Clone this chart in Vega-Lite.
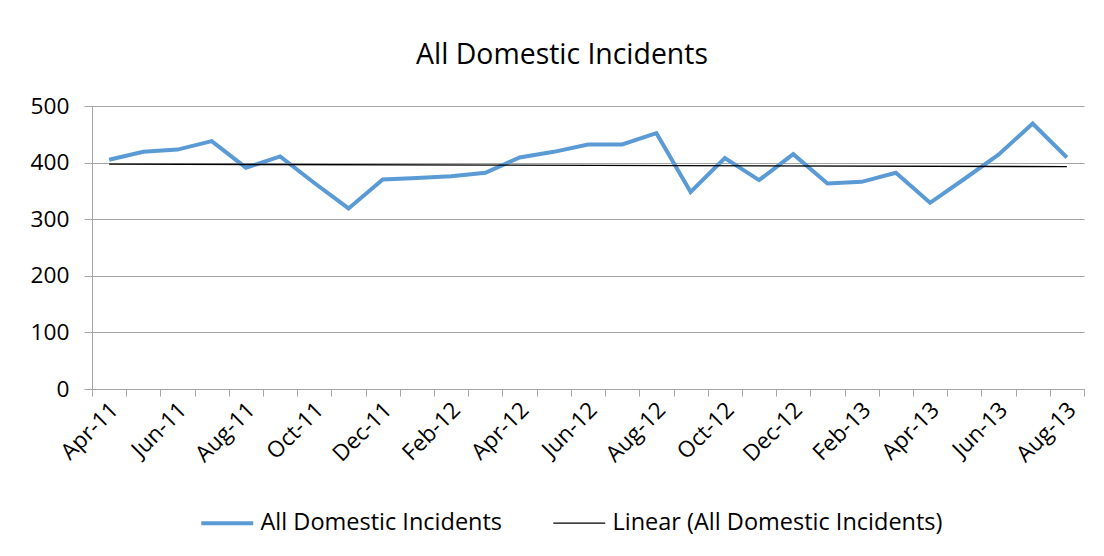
{
  "$schema": "https://vega.github.io/schema/vega-lite/v6.json",
  "autosize": {"type": "none"},
  "padding": {"left": 92, "top": 106, "right": 20, "bottom": 167},
  "width": 992,
  "height": 283,
  "background": "white",
  "config": {
    "view": {"stroke": null},
    "font": "Open Sans"
  },
  "title": {
    "text": "All Domestic Incidents",
    "anchor": "middle",
    "font": "Open Sans",
    "fontSize": 28.4,
    "fontWeight": "normal",
    "color": "black",
    "offset": 25,
    "dx": -26
  },
  "data": {
    "values": [
      {"i": 0, "month": "Apr-11", "value": 405},
      {"i": 1, "month": "May-11", "value": 419},
      {"i": 2, "month": "Jun-11", "value": 423},
      {"i": 3, "month": "Jul-11", "value": 438},
      {"i": 4, "month": "Aug-11", "value": 391},
      {"i": 5, "month": "Sep-11", "value": 411},
      {"i": 6, "month": "Oct-11", "value": 364},
      {"i": 7, "month": "Nov-11", "value": 319},
      {"i": 8, "month": "Dec-11", "value": 370},
      {"i": 9, "month": "Jan-12", "value": 373},
      {"i": 10, "month": "Feb-12", "value": 376},
      {"i": 11, "month": "Mar-12", "value": 382},
      {"i": 12, "month": "Apr-12", "value": 409},
      {"i": 13, "month": "May-12", "value": 419},
      {"i": 14, "month": "Jun-12", "value": 432},
      {"i": 15, "month": "Jul-12", "value": 432},
      {"i": 16, "month": "Aug-12", "value": 452},
      {"i": 17, "month": "Sep-12", "value": 348},
      {"i": 18, "month": "Oct-12", "value": 408},
      {"i": 19, "month": "Nov-12", "value": 369},
      {"i": 20, "month": "Dec-12", "value": 415},
      {"i": 21, "month": "Jan-13", "value": 363},
      {"i": 22, "month": "Feb-13", "value": 366},
      {"i": 23, "month": "Mar-13", "value": 382},
      {"i": 24, "month": "Apr-13", "value": 329},
      {"i": 25, "month": "May-13", "value": 371},
      {"i": 26, "month": "Jun-13", "value": 414},
      {"i": 27, "month": "Jul-13", "value": 469},
      {"i": 28, "month": "Aug-13", "value": 409}
    ]
  },
  "encoding": {
    "x": {
      "field": "i",
      "type": "quantitative",
      "scale": {"domain": [-0.5, 28.5], "nice": false, "zero": false},
      "axis": {
        "title": null,
        "grid": false,
        "values": [-0.5, 0, 0.5, 1, 1.5, 2, 2.5, 3, 3.5, 4, 4.5, 5, 5.5, 6, 6.5, 7, 7.5, 8, 8.5, 9, 9.5, 10, 10.5, 11, 11.5, 12, 12.5, 13, 13.5, 14, 14.5, 15, 15.5, 16, 16.5, 17, 17.5, 18, 18.5, 19, 19.5, 20, 20.5, 21, 21.5, 22, 22.5, 23, 23.5, 24, 24.5, 25, 25.5, 26, 26.5, 27, 27.5, 28, 28.5],
        "labelExpr": "datum.value % 2 === 0 ? ['Apr-11','Jun-11','Aug-11','Oct-11','Dec-11','Feb-12','Apr-12','Jun-12','Aug-12','Oct-12','Dec-12','Feb-13','Apr-13','Jun-13','Aug-13'][datum.value / 2] : ''",
        "labelAngle": -45,
        "labelAlign": "right",
        "labelBaseline": "middle",
        "labelFont": "Open Sans",
        "labelFontSize": 22.5,
        "labelColor": "black",
        "labelOverlap": false,
        "labelBound": false,
        "labelFlush": false,
        "labelPadding": 10,
        "labelOffset": 5,
        "domainColor": "#a6a6a6",
        "tickSize": 7,
        "tickColor": {"condition": {"test": "datum.value % 1 === 0", "value": "transparent"}, "value": "#a6a6a6"}
      }
    },
    "y": {
      "field": "value",
      "type": "quantitative",
      "scale": {"domain": [0, 500], "nice": false},
      "axis": {
        "title": null,
        "values": [0, 100, 200, 300, 400, 500],
        "grid": true,
        "gridColor": "#a6a6a6",
        "domainColor": "#a6a6a6",
        "tickColor": "#a6a6a6",
        "tickSize": 8,
        "labelFont": "Open Sans",
        "labelFontSize": 22.7,
        "labelColor": "black",
        "labelPadding": 15
      }
    }
  },
  "layer": [
    {
      "mark": {"type": "line", "strokeWidth": 4, "strokeJoin": "miter", "clip": false},
      "encoding": {
        "color": {
          "datum": "All Domestic Incidents",
          "type": "nominal",
          "scale": {"domain": ["All Domestic Incidents", "Linear (All Domestic Incidents)"], "range": ["#5b9bd5", "#000000"]},
          "legend": {
            "title": null,
            "orient": "none",
            "direction": "horizontal",
            "legendX": 123.5,
            "legendY": 405,
            "symbolType": "stroke",
            "symbolSize": 2700,
            "symbolStrokeWidth": 4,
            "labelFont": "Open Sans",
            "labelFontSize": 23.5,
            "labelColor": "black",
            "labelOffset": 21.5,
            "columnPadding": 48,
            "labelLimit": 0,
            "encode": {
              "symbols": {"update": {"strokeWidth": {"signal": "datum.label === 'All Domestic Incidents' ? 4 : 1.3"}}}
            }
          }
        }
      }
    },
    {
      "transform": [{"regression": "value", "on": "i"}],
      "mark": {"type": "line", "strokeWidth": 1.3},
      "encoding": {
        "color": {"datum": "Linear (All Domestic Incidents)", "type": "nominal"}
      }
    }
  ]
}
